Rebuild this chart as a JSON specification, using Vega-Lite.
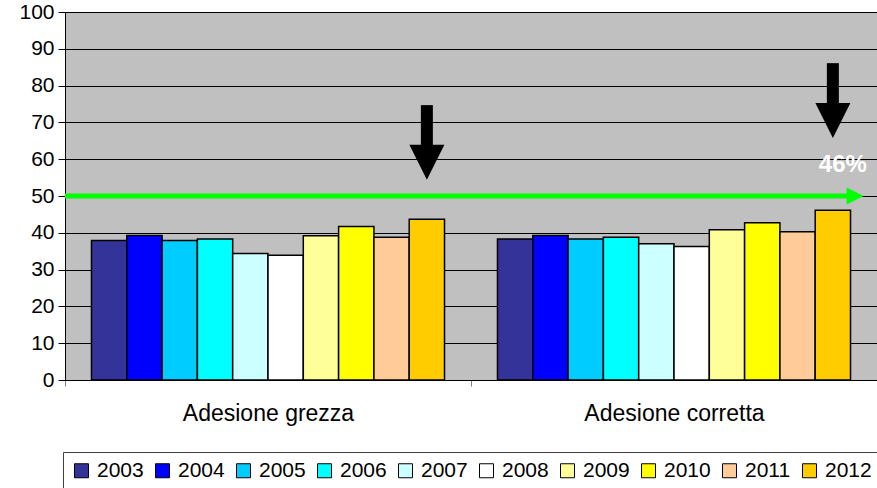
{
  "$schema": "https://vega.github.io/schema/vega-lite/v6.json",
  "width": 812,
  "height": 368,
  "autosize": {"type": "none"},
  "padding": {"left": 65, "top": 12, "right": 0, "bottom": 108},
  "background": "white",
  "config": {
    "view": {"fill": "#C0C0C0", "stroke": "#808080", "strokeWidth": 1},
    "font": "Liberation Sans"
  },
  "datasets": {
    "bars": [
      {"group": "Adesione grezza", "year": "2003", "value": 37.9},
      {"group": "Adesione grezza", "year": "2004", "value": 39.3},
      {"group": "Adesione grezza", "year": "2005", "value": 37.9},
      {"group": "Adesione grezza", "year": "2006", "value": 38.3},
      {"group": "Adesione grezza", "year": "2007", "value": 34.4},
      {"group": "Adesione grezza", "year": "2008", "value": 33.9},
      {"group": "Adesione grezza", "year": "2009", "value": 39.2},
      {"group": "Adesione grezza", "year": "2010", "value": 41.7},
      {"group": "Adesione grezza", "year": "2011", "value": 38.8},
      {"group": "Adesione grezza", "year": "2012", "value": 43.7},
      {"group": "Adesione corretta", "year": "2003", "value": 38.3},
      {"group": "Adesione corretta", "year": "2004", "value": 39.3},
      {"group": "Adesione corretta", "year": "2005", "value": 38.3},
      {"group": "Adesione corretta", "year": "2006", "value": 38.8},
      {"group": "Adesione corretta", "year": "2007", "value": 37.0},
      {"group": "Adesione corretta", "year": "2008", "value": 36.3},
      {"group": "Adesione corretta", "year": "2009", "value": 40.8},
      {"group": "Adesione corretta", "year": "2010", "value": 42.7},
      {"group": "Adesione corretta", "year": "2011", "value": 40.3},
      {"group": "Adesione corretta", "year": "2012", "value": 46.1}
    ],
    "arrows": [
      {"group": "Adesione grezza", "year": "2012", "top": 74.7, "bottom": 62.5, "head": 59.2},
      {"group": "Adesione corretta", "year": "2012", "top": 86.1, "bottom": 73.5, "head": 70.5}
    ],
    "labels": [
      {"group": "Adesione corretta", "year": "2012", "pos": 58.4, "label": "46%"}
    ],
    "target": [
      {"start": 0, "end": 0.963, "head": 0.973, "target": 50}
    ]
  },
  "layer": [
    {
      "layer": [
        {
          "data": {"name": "bars"},
          "mark": {"type": "bar", "stroke": "black", "strokeWidth": 1.5},
          "encoding": {
            "x": {
              "field": "group", "type": "nominal",
              "sort": ["Adesione grezza", "Adesione corretta"],
              "scale": {"paddingInner": 0, "paddingOuter": 0},
              "axis": {"title": null, "labelFontSize": 23, "labelColor": "black", "labelFont": "Liberation Sans", "labelPadding": 16, "tickBand": "extent", "tickSize": 6, "tickColor": "#808080", "domainColor": "black", "grid": false, "labelAngle": 0, "labelLimit": 1000}
            },
            "xOffset": {
              "field": "year", "type": "nominal",
              "scale": {"domain": ["2003","2004","2005","2006","2007","2008","2009","2010","2011","2012"], "paddingInner": 0, "paddingOuter": 0.75}
            },
            "y": {
              "field": "value", "type": "quantitative",
              "scale": {"domain": [0, 100]},
              "axis": {"title": null, "values": [0,10,20,30,40,50,60,70,80,90,100], "labelFontSize": 21, "labelColor": "black", "labelFont": "Liberation Sans", "tickSize": 7, "tickColor": "black", "domainColor": "black", "grid": true, "gridColor": "black", "gridOpacity": 1, "labelPadding": 4, "labelOverlap": false}
            },
            "color": {
              "field": "year", "type": "nominal",
              "scale": {
                "domain": ["2003","2004","2005","2006","2007","2008","2009","2010","2011","2012"],
                "range": ["#333399","#0000FF","#00CCFF","#00FFFF","#CCFFFF","#FFFFFF","#FFFF99","#FFFF00","#FFCC99","#FFCC00"]
              },
              "legend": {
                "title": null, "orient": "none", "legendX": -2, "legendY": 440,
                "direction": "horizontal", "columns": 10,
                "symbolType": "square", "symbolSize": 196, "symbolStrokeColor": "black", "symbolStrokeWidth": 1,
                "labelFontSize": 21, "labelFont": "Liberation Sans", "labelColor": "black",
                "labelOffset": 5, "columnPadding": 8, "padding": 8,
                "strokeColor": "#404040", "fillColor": "white", "labelLimit": 0
              }
            }
          }
        },
        {
          "data": {"name": "arrows"},
          "mark": {"type": "rule", "color": "black", "strokeWidth": 12},
          "encoding": {
            "x": {"field": "group", "type": "nominal", "sort": ["Adesione grezza", "Adesione corretta"], "scale": {"paddingInner": 0, "paddingOuter": 0},
              "axis": {"title": null, "labelFontSize": 23, "labelColor": "black", "labelFont": "Liberation Sans", "labelPadding": 16, "tickBand": "extent", "tickSize": 6, "tickColor": "#808080", "domainColor": "black", "grid": false, "labelAngle": 0, "labelLimit": 1000}},
            "xOffset": {"field": "year", "type": "nominal"},
            "y": {"field": "top", "type": "quantitative", "scale": {"domain": [0, 100]},
              "axis": {"title": null, "values": [0,10,20,30,40,50,60,70,80,90,100], "labelFontSize": 21, "labelColor": "black", "labelFont": "Liberation Sans", "tickSize": 7, "tickColor": "black", "domainColor": "black", "grid": true, "gridColor": "black", "gridOpacity": 1, "labelPadding": 4, "labelOverlap": false}},
            "y2": {"field": "bottom"}
          }
        },
        {
          "data": {"name": "arrows"},
          "mark": {"type": "point", "shape": "M-1,-1L1,-1L0,1Z", "size": 1225, "filled": true, "color": "black", "opacity": 1, "strokeWidth": 0},
          "encoding": {
            "x": {"field": "group", "type": "nominal", "sort": ["Adesione grezza", "Adesione corretta"], "scale": {"paddingInner": 0, "paddingOuter": 0},
              "axis": {"title": null, "labelFontSize": 23, "labelColor": "black", "labelFont": "Liberation Sans", "labelPadding": 16, "tickBand": "extent", "tickSize": 6, "tickColor": "#808080", "domainColor": "black", "grid": false, "labelAngle": 0, "labelLimit": 1000}},
            "xOffset": {"field": "year", "type": "nominal"},
            "y": {"field": "head", "type": "quantitative", "scale": {"domain": [0, 100]},
              "axis": {"title": null, "values": [0,10,20,30,40,50,60,70,80,90,100], "labelFontSize": 21, "labelColor": "black", "labelFont": "Liberation Sans", "tickSize": 7, "tickColor": "black", "domainColor": "black", "grid": true, "gridColor": "black", "gridOpacity": 1, "labelPadding": 4, "labelOverlap": false}}
          }
        },
        {
          "data": {"name": "labels"},
          "mark": {"type": "text", "color": "white", "fontSize": 24, "fontWeight": "bold", "font": "Liberation Sans", "dx": 10, "align": "center", "baseline": "middle"},
          "encoding": {
            "x": {"field": "group", "type": "nominal", "sort": ["Adesione grezza", "Adesione corretta"], "scale": {"paddingInner": 0, "paddingOuter": 0},
              "axis": {"title": null, "labelFontSize": 23, "labelColor": "black", "labelFont": "Liberation Sans", "labelPadding": 16, "tickBand": "extent", "tickSize": 6, "tickColor": "#808080", "domainColor": "black", "grid": false, "labelAngle": 0, "labelLimit": 1000}},
            "xOffset": {"field": "year", "type": "nominal"},
            "y": {"field": "pos", "type": "quantitative", "scale": {"domain": [0, 100]},
              "axis": {"title": null, "values": [0,10,20,30,40,50,60,70,80,90,100], "labelFontSize": 21, "labelColor": "black", "labelFont": "Liberation Sans", "tickSize": 7, "tickColor": "black", "domainColor": "black", "grid": true, "gridColor": "black", "gridOpacity": 1, "labelPadding": 4, "labelOverlap": false}},
            "text": {"field": "label"}
          }
        }
      ]
    },
    {
      "data": {"name": "target"},
      "layer": [
        {
          "mark": {"type": "rule", "color": "#00FF00", "strokeWidth": 5},
          "encoding": {
            "x": {"field": "start", "type": "quantitative", "scale": {"domain": [0, 1]}, "axis": null},
            "x2": {"field": "end"},
            "y": {"field": "target", "type": "quantitative", "scale": {"domain": [0, 100]},
              "axis": {"title": null, "values": [0,10,20,30,40,50,60,70,80,90,100], "labelFontSize": 21, "labelColor": "black", "labelFont": "Liberation Sans", "tickSize": 7, "tickColor": "black", "domainColor": "black", "grid": true, "gridColor": "black", "gridOpacity": 1, "labelPadding": 4, "labelOverlap": false}}
          }
        },
        {
          "mark": {"type": "point", "shape": "M-1,-1L1,0L-1,1Z", "size": 289, "filled": true, "color": "#00FF00", "opacity": 1, "strokeWidth": 0},
          "encoding": {
            "x": {"field": "head", "type": "quantitative", "scale": {"domain": [0, 1]}, "axis": null},
            "y": {"field": "target", "type": "quantitative", "scale": {"domain": [0, 100]},
              "axis": {"title": null, "values": [0,10,20,30,40,50,60,70,80,90,100], "labelFontSize": 21, "labelColor": "black", "labelFont": "Liberation Sans", "tickSize": 7, "tickColor": "black", "domainColor": "black", "grid": true, "gridColor": "black", "gridOpacity": 1, "labelPadding": 4, "labelOverlap": false}}
          }
        }
      ]
    }
  ],
  "resolve": {"scale": {"x": "independent"}}
}
